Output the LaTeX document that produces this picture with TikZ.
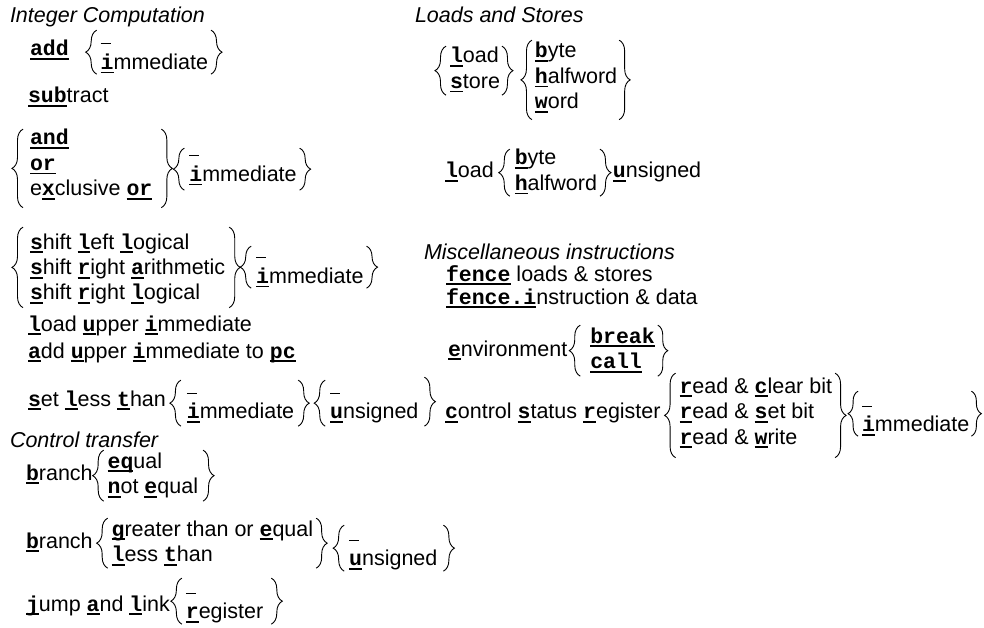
\documentclass[tikz,border=0pt]{standalone}
\usepackage{fontspec}
\setmainfont{Liberation Sans}
\newfontfamily\monob{Liberation Mono}
\usetikzlibrary{decorations.pathreplacing}
\newcommand\mb[1]{{\monob\bfseries\setbox0=\hbox{#1}\rlap{\rule[-4pt]{\wd0}{1.8pt}}\box0}}
\newcommand\nil{\rule[-0.5pt]{10pt}{1pt}}
\newcommand\stk[1]{\begin{tabular}[t]{@{}l@{}}#1\end{tabular}}
% \LB{node}{pad}{amplitude}{top extension}{bottom extension}
\newcommand\LB[5]{\draw[brc=#3] ([xshift=-#2,yshift=-#5]#1.south west) -- ([xshift=-#2,yshift=#4]#1.north west);}
\newcommand\RB[5]{\draw[brc=#3] ([xshift=#2,yshift=#4]#1.north east) -- ([xshift=#2,yshift=-#5]#1.south east);}
\begin{document}
\begin{tikzpicture}[x=1pt,y=-1pt,
  every node/.style={inner sep=0pt, outer sep=0pt, anchor=base west, font=\fontsize{21.5}{25.5}\selectfont},
  hd/.style={font=\fontsize{21.5}{25.5}\selectfont\itshape},
  brc/.style={decorate, decoration={brace, amplitude=#1}, line width=0.9pt},
  brc/.default=11pt]
\useasboundingbox (0,0) rectangle (984,628);
% ---------------- Integer computation
\node[hd] (t1) at (10,23) {Integer Computation};
\node (add) at (30,56) {\mb{add}};
\node (gA) at ([xshift=32pt,yshift=12pt]add.base east) {\stk{\nil\\\mb{i}mmediate}};
\LB{gA}{4pt}{11pt}{-4pt}{-3pt}
\RB{gA}{3pt}{11pt}{-4pt}{-3pt}
\node (sub) at (28,103) {\mb{sub}tract};
\node (gB) at (30,145) {\stk{\mb{and}\\\mb{or}\\e\mb{x}clusive \mb{or}}};
\LB{gB}{7pt}{11pt}{-2pt}{4pt}
\RB{gB}{9pt}{11pt}{-2pt}{4pt}
\node (gB2) at ([xshift=37pt,yshift=-11pt]gB.base east) {\stk{\nil\\\mb{i}mmediate}};
\LB{gB2}{5pt}{11pt}{-10pt}{1pt}
\RB{gB2}{3pt}{11pt}{-10pt}{1pt}
\node (gC) at (30,249) {\stk{\mb{s}hift \mb{l}eft \mb{l}ogical\\\mb{s}hift \mb{r}ight \mb{a}rithmetic\\\mb{s}hift \mb{r}ight \mb{l}ogical}};
\LB{gC}{7pt}{11pt}{4pt}{0pt}
\RB{gC}{4pt}{11pt}{4pt}{0pt}
\node (gC2) at ([xshift=31pt,yshift=-9pt]gC.base east) {\stk{\nil\\\mb{i}mmediate}};
\LB{gC2}{5pt}{11pt}{-6pt}{-3pt}
\RB{gC2}{3pt}{11pt}{-6pt}{-3pt}
\node (lui) at (28,331) {\mb{l}oad \mb{u}pper \mb{i}mmediate};
\node (auipc) at (28,358) {\mb{a}dd \mb{u}pper \mb{i}mmediate to \mb{pc}};
\node (slt) at (28,406) {\mb{s}et \mb{l}ess \mb{t}han};
\node (gD) at ([xshift=21pt,yshift=13pt]slt.base east) {\stk{\nil\\\mb{i}mmediate}};
\LB{gD}{6pt}{11pt}{-5pt}{0pt}
\RB{gD}{4pt}{11pt}{-5pt}{0pt}
\node (gD2) at ([xshift=36pt]gD.base east) {\stk{\nil\\\mb{u}nsigned}};
\LB{gD2}{5pt}{11pt}{-5pt}{0pt}
\RB{gD2}{6pt}{11pt}{-2pt}{0pt}
% ---------------- CSR
\node (csr) at (445,418.5) {\mb{c}ontrol \mb{s}tatus \mb{r}egister};
\node (gE) at ([xshift=19pt,yshift=25.5pt]csr.base east) {\stk{\mb{r}ead \& \mb{c}lear bit\\\mb{r}ead \& \mb{s}et bit\\\mb{r}ead \& \mb{w}rite}};
\LB{gE}{4pt}{11pt}{2pt}{6pt}
\RB{gE}{3pt}{11pt}{2pt}{6pt}
\node (gE2) at ([xshift=30pt,yshift=-13pt]gE.base east) {\stk{\nil\\\mb{i}mmediate}};
\LB{gE2}{4pt}{10pt}{-3pt}{-3pt}
\RB{gE2}{2pt}{10pt}{-3pt}{-3pt}
% ---------------- Control transfer
\node[hd] (t3) at (10,447) {Control transfer};
\node (br1) at (26,480) {\mb{b}ranch};
\node (gF) at ([xshift=15pt,yshift=12pt]br1.base east) {\stk{\mb{eq}ual\\\mb{n}ot \mb{e}qual}};
\LB{gF}{4pt}{11pt}{0pt}{0pt}
\RB{gF}{5pt}{11pt}{0pt}{0pt}
\node (br2) at (26,548) {\mb{b}ranch};
\node (gG) at ([xshift=19pt,yshift=12pt]br2.base east) {\stk{\mb{g}reater than or \mb{e}qual\\\mb{l}ess \mb{t}han}};
\LB{gG}{4pt}{11pt}{0pt}{-1pt}
\RB{gG}{3pt}{11pt}{0pt}{-1pt}
\node (gG2) at ([xshift=36pt,yshift=-4pt]gG.base east) {\stk{\nil\\\mb{u}nsigned}};
\LB{gG2}{5pt}{11pt}{-3pt}{-2pt}
\RB{gG2}{6pt}{11pt}{-3pt}{-2pt}
\node (jal) at (26,611) {\mb{j}ump \mb{a}nd \mb{l}ink};
\node (gH) at ([xshift=16pt,yshift=18pt]jal.base east) {\stk{\nil\\\mb{r}egister}};
\LB{gH}{4pt}{11pt}{-3pt}{-2pt}
\RB{gH}{8pt}{11pt}{-3pt}{-2pt}
% ---------------- Loads and stores
\node[hd] (t2) at (415,23) {Loads and Stores};
\node (gI) at (450,63) {\stk{\mb{l}oad\\\mb{s}tore}};
\LB{gI}{4pt}{11pt}{-1pt}{-1pt}
\RB{gI}{2pt}{11pt}{-1pt}{-1pt}
\node (gJ) at ([xshift=35pt,yshift=5pt]gI.base east) {\stk{\mb{b}yte\\\mb{h}alfword\\\mb{w}ord}};
\LB{gJ}{3pt}{11pt}{0pt}{3pt}
\RB{gJ}{2pt}{11pt}{0pt}{3pt}
\node (lbu) at (445,178) {\mb{l}oad};
\node (gK) at ([xshift=21pt,yshift=13pt]lbu.base east) {\stk{\mb{b}yte\\\mb{h}alfword}};
\LB{gK}{5pt}{11pt}{-2pt}{-2pt}
\RB{gK}{3pt}{11pt}{-2pt}{-2pt}
\node (uns) at ([xshift=16pt,yshift=-13pt]gK.base east) {\mb{u}nsigned};
% ---------------- Misc
\node[hd] (t4) at (424,259) {Miscellaneous instructions};
\node (fn) at (446,281) {\mb{fence} loads \& stores};
\node (fni) at (446,304) {\mb{fence.i}nstruction \& data};
\node (env) at (448,356) {\mb{e}nvironment};
\node (gL) at ([xshift=23pt,yshift=13pt]env.base east) {\stk{\mb{break}\\\mb{call}}};
\LB{gL}{10pt}{11pt}{0pt}{0pt}
\RB{gL}{3pt}{10pt}{0pt}{0pt}
\end{tikzpicture}
\end{document}
